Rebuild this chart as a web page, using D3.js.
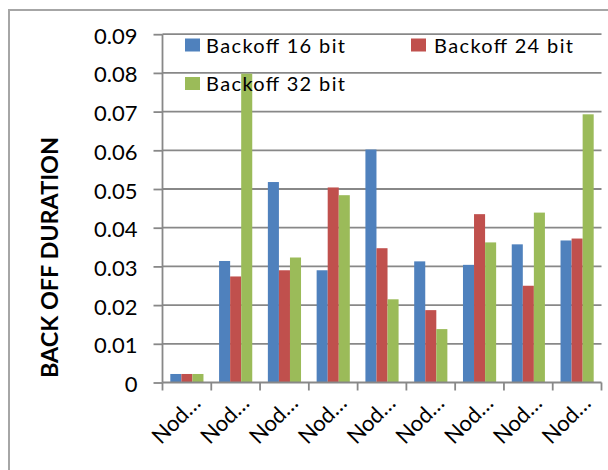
<!DOCTYPE html>
<html>
<head>
<meta charset="utf-8">
<script src="https://cdn.jsdelivr.net/npm/d3@7"></script>
<style>
  html, body { margin: 0; padding: 0; background: #fff; }
  svg { display: block; }
  text { font-family: Lato, "Open Sans", "Liberation Sans", sans-serif; fill: #000; }
</style>
</head>
<body>
<svg id="chart" width="608" height="470"></svg>
<script>
const categories = ["Node 1", "Node 2", "Node 3", "Node 4", "Node 5", "Node 6", "Node 7", "Node 8", "Node 9"];
const categoryLabels = ["Nod…", "Nod…", "Nod…", "Nod…", "Nod…", "Nod…", "Nod…", "Nod…", "Nod…"];
const seriesNames = ["Backoff 16 bit", "Backoff 24 bit", "Backoff 32 bit"];
const backoff16 = [0.0022, 0.0314, 0.0518, 0.0290, 0.0602, 0.0313, 0.0304, 0.0357, 0.0367];
const backoff24 = [0.0022, 0.0274, 0.0290, 0.0504, 0.0347, 0.0187, 0.0435, 0.0250, 0.0372];
const backoff32 = [0.0022, 0.0798, 0.0323, 0.0484, 0.0215, 0.0138, 0.0362, 0.0439, 0.0693];
const yTicks = [0, 0.01, 0.02, 0.03, 0.04, 0.05, 0.06, 0.07, 0.08, 0.09];
const yTickLabels = ["0", "0.01", "0.02", "0.03", "0.04", "0.05", "0.06", "0.07", "0.08", "0.09"];
const yTitle = "BACK OFF DURATION";
const colors = ["#4F81BD", "#C0504D", "#9BBB59"];

const seriesValues = [backoff16, backoff24, backoff32];

const svg = d3.select("#chart");

// outer frame
svg.append("rect")
  .attr("x", 9).attr("y", 10).attr("width", 640).attr("height", 500)
  .attr("fill", "none").attr("stroke", "#a6a6a6").attr("stroke-width", 2);

const x0 = 162.5, x1 = 601.5, yBase = 382.5, yTop = 34.2;

const x = d3.scaleBand().domain(categories).range([x0, x1]).paddingInner(0.32).paddingOuter(0.16);
const xs = d3.scaleBand().domain(d3.range(seriesNames.length)).range([0, x.bandwidth()]);
const y = d3.scaleLinear().domain([0, 0.09]).range([yBase, yTop]);

const gridColor = "#888888";

// gridlines
svg.append("g").selectAll("line").data(yTicks.slice(1)).join("line")
  .attr("x1", x0).attr("x2", x1)
  .attr("y1", d => y(d)).attr("y2", d => y(d))
  .attr("stroke", gridColor).attr("stroke-width", 1.8);

// bars
const groups = svg.append("g").selectAll("g").data(categories).join("g")
  .attr("transform", c => `translate(${x(c)},0)`);
groups.selectAll("rect").data((c, i) => seriesValues.map((s, k) => ({k, v: s[i]}))).join("rect")
  .attr("x", d => xs(d.k))
  .attr("width", xs.bandwidth())
  .attr("y", d => y(d.v))
  .attr("height", d => yBase - y(d.v))
  .attr("fill", d => colors[d.k]);

// y axis
const yAxis = d3.axisLeft(y).tickValues(yTicks).tickSize(9).tickFormat((d, i) => yTickLabels[i]);
const gy = svg.append("g").attr("transform", `translate(${x0},0)`).call(yAxis);
gy.select(".domain").attr("stroke", gridColor).attr("stroke-width", 1.8).attr("d", `M0,${yTop}V${yBase}`);
gy.selectAll(".tick line").attr("stroke", gridColor).attr("stroke-width", 1.8);
gy.selectAll(".tick text")
  .attr("x", -25).attr("dy", null).attr("y", 9)
  .attr("font-size", 22).attr("font-family", "Lato, sans-serif")
  .attr("fill", "#000");

// x axis
const gx = svg.append("g").attr("transform", `translate(0,${yBase})`);
gx.append("line").attr("x1", x0).attr("x2", x1).attr("y1", 0).attr("y2", 0)
  .attr("stroke", gridColor).attr("stroke-width", 1.8);
const boundaries = categories.map((c, i) => x0 + i * x.step()).concat([x1]);
gx.selectAll("line.tk").data(boundaries).join("line").attr("class", "tk")
  .attr("x1", d => d).attr("x2", d => d).attr("y1", 0).attr("y2", 8)
  .attr("stroke", gridColor).attr("stroke-width", 1.8);

svg.append("g").selectAll("text").data(categories).join("text")
  .attr("transform", c => `translate(${x(c) + x.bandwidth() / 2 + 15},${yBase + 22}) rotate(-45)`)
  .attr("text-anchor", "end")
  .attr("font-size", 22)
  .text((c, i) => categoryLabels[i]);

// y title
svg.append("text")
  .attr("transform", `translate(58,257.5) rotate(-90)`)
  .attr("text-anchor", "middle")
  .attr("font-size", 22).attr("font-weight", "bold")
  .attr("font-family", "'Open Sans', Lato, sans-serif")
  .attr("textLength", 241).attr("lengthAdjust", "spacingAndGlyphs")
  .text(yTitle);

// legend
const legendPos = [[185, 38.5, 206, 52.7], [411, 38.5, 434, 52.7], [185, 77, 206, 90.7]];
const lg = svg.append("g").selectAll("g").data(seriesNames).join("g");
lg.append("rect")
  .attr("x", (d, i) => legendPos[i][0]).attr("y", (d, i) => legendPos[i][1])
  .attr("width", 15).attr("height", 13)
  .attr("fill", (d, i) => colors[i]);
lg.append("text")
  .attr("x", (d, i) => legendPos[i][2]).attr("y", (d, i) => legendPos[i][3])
  .attr("font-size", 20)
  .attr("textLength", 139).attr("lengthAdjust", "spacing")
  .text(d => d);
</script>
</body>
</html>
